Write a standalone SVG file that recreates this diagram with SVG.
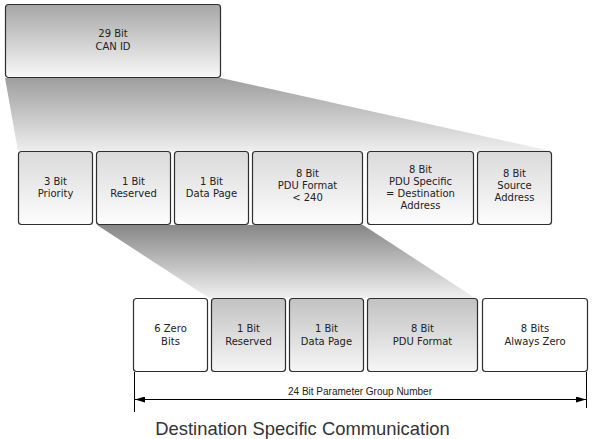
<svg xmlns="http://www.w3.org/2000/svg" width="594" height="439" viewBox="0 0 594 439">
<defs>
<linearGradient id="gTop" x1="0" y1="0" x2="0" y2="1"><stop offset="0" stop-color="#a6a6a6"/><stop offset="1" stop-color="#f8f8f8"/></linearGradient>
<linearGradient id="gF1" x1="0" y1="0" x2="0" y2="1"><stop offset="0" stop-color="#9e9e9e"/><stop offset="1" stop-color="#eeeeee"/></linearGradient>
<linearGradient id="gF2" x1="0" y1="0" x2="0" y2="1"><stop offset="0" stop-color="#878787"/><stop offset="1" stop-color="#f0f0f0"/></linearGradient>
<linearGradient id="gRow2" x1="0" y1="0" x2="0" y2="1"><stop offset="0" stop-color="#dadada"/><stop offset="1" stop-color="#fdfdfd"/></linearGradient>
<linearGradient id="gRow3" x1="0" y1="0" x2="0" y2="1"><stop offset="0" stop-color="#c2c2c2"/><stop offset="1" stop-color="#f6f6f6"/></linearGradient>
<marker id="arr" viewBox="0 0 10 6" refX="10" refY="3" markerWidth="10" markerHeight="6" markerUnits="userSpaceOnUse" orient="auto-start-reverse"><path d="M0,0 L10,3 L0,6 Z" fill="#000"/></marker>
</defs>
<style>
.box{stroke:#2e2e2e;stroke-width:1.2}
.t{font-family:"DejaVu Sans",Verdana,sans-serif;font-size:10px;fill:#222;text-anchor:middle}
.dim{stroke:#000;stroke-width:1;fill:none}
</style>
<rect width="594" height="439" fill="#fff"/>
<g id="funnels">
<polygon points="5,78 221,78 551,151 18,151" fill="url(#gF1)"/>
<polygon points="97,225 363,225 475,298 209,298" fill="url(#gF2)"/>
</g>
<g id="can-id"><rect class="box" x="5.5" y="4.5" width="215" height="73" rx="3" fill="url(#gTop)"/><text class="t" x="113" y="37">29 Bit</text><text class="t" x="113" y="50">CAN ID</text></g>
<g id="priority"><rect class="box" x="18.5" y="151.5" width="74" height="73" rx="3" fill="url(#gRow2)"/><text class="t" x="55.5" y="185.3">3 Bit</text><text class="t" x="55.5" y="197">Priority</text></g>
<g id="reserved"><rect class="box" x="96.5" y="151.5" width="74" height="73" rx="3" fill="url(#gRow2)"/><text class="t" x="133.5" y="185.3">1 Bit</text><text class="t" x="133.5" y="197">Reserved</text></g>
<g id="datapage"><rect class="box" x="174.5" y="151.5" width="74" height="73" rx="3" fill="url(#gRow2)"/><text class="t" x="211.5" y="185.3">1 Bit</text><text class="t" x="211.5" y="197">Data Page</text></g>
<g id="pduformat"><rect class="box" x="252.5" y="151.5" width="110" height="73" rx="3" fill="url(#gRow2)"/><text class="t" x="307.5" y="177">8 Bit</text><text class="t" x="307.5" y="188.8">PDU Format</text><text class="t" x="307.5" y="200.6">&lt; 240</text></g>
<g id="pduspecific"><rect class="box" x="367.5" y="151.5" width="106" height="73" rx="3" fill="url(#gRow2)"/><text class="t" x="420.5" y="173">8 Bit</text><text class="t" x="420.5" y="185">PDU Specific</text><text class="t" x="420.5" y="197">= Destination</text><text class="t" x="420.5" y="208.8">Address</text></g>
<g id="source"><rect class="box" x="477.5" y="151.5" width="74" height="73" rx="3" fill="url(#gRow2)"/><text class="t" x="514.5" y="177">8 Bit</text><text class="t" x="514.5" y="188.8">Source</text><text class="t" x="514.5" y="200.6">Address</text></g>
<g id="zero6"><rect class="box" x="133.5" y="298.5" width="74" height="73" rx="3" fill="#fff"/><text class="t" x="170.5" y="332">6 Zero</text><text class="t" x="170.5" y="344.5">Bits</text></g>
<g id="reserved2"><rect class="box" x="211.5" y="298.5" width="74" height="73" rx="3" fill="url(#gRow3)"/><text class="t" x="248.5" y="332">1 Bit</text><text class="t" x="248.5" y="344.5">Reserved</text></g>
<g id="datapage2"><rect class="box" x="289.5" y="298.5" width="74" height="73" rx="3" fill="url(#gRow3)"/><text class="t" x="326.5" y="332">1 Bit</text><text class="t" x="326.5" y="344.5">Data Page</text></g>
<g id="pduformat2"><rect class="box" x="367.5" y="298.5" width="110" height="73" rx="3" fill="url(#gRow3)"/><text class="t" x="422.5" y="332">8 Bit</text><text class="t" x="422.5" y="344.5">PDU Format</text></g>
<g id="zero8"><rect class="box" x="482.5" y="298.5" width="105" height="73" rx="3" fill="#fff"/><text class="t" x="535" y="332">8 Bits</text><text class="t" x="535" y="344.5">Always Zero</text></g>
<g id="connectors">
<line class="dim" x1="134.5" y1="372" x2="134.5" y2="412"/>
<line class="dim" x1="586.5" y1="372" x2="586.5" y2="408"/>
<line class="dim" x1="135" y1="399.5" x2="586" y2="399.5" marker-start="url(#arr)" marker-end="url(#arr)"/>
<text x="360" y="395" font-family="Liberation Sans, Arial, sans-serif" font-size="10" fill="#222" text-anchor="middle">24 Bit Parameter Group Number</text>
</g>
<text x="302.5" y="435" font-family="Liberation Sans, Arial, sans-serif" font-size="18.4" fill="#333" text-anchor="middle">Destination Specific Communication</text>
</svg>
